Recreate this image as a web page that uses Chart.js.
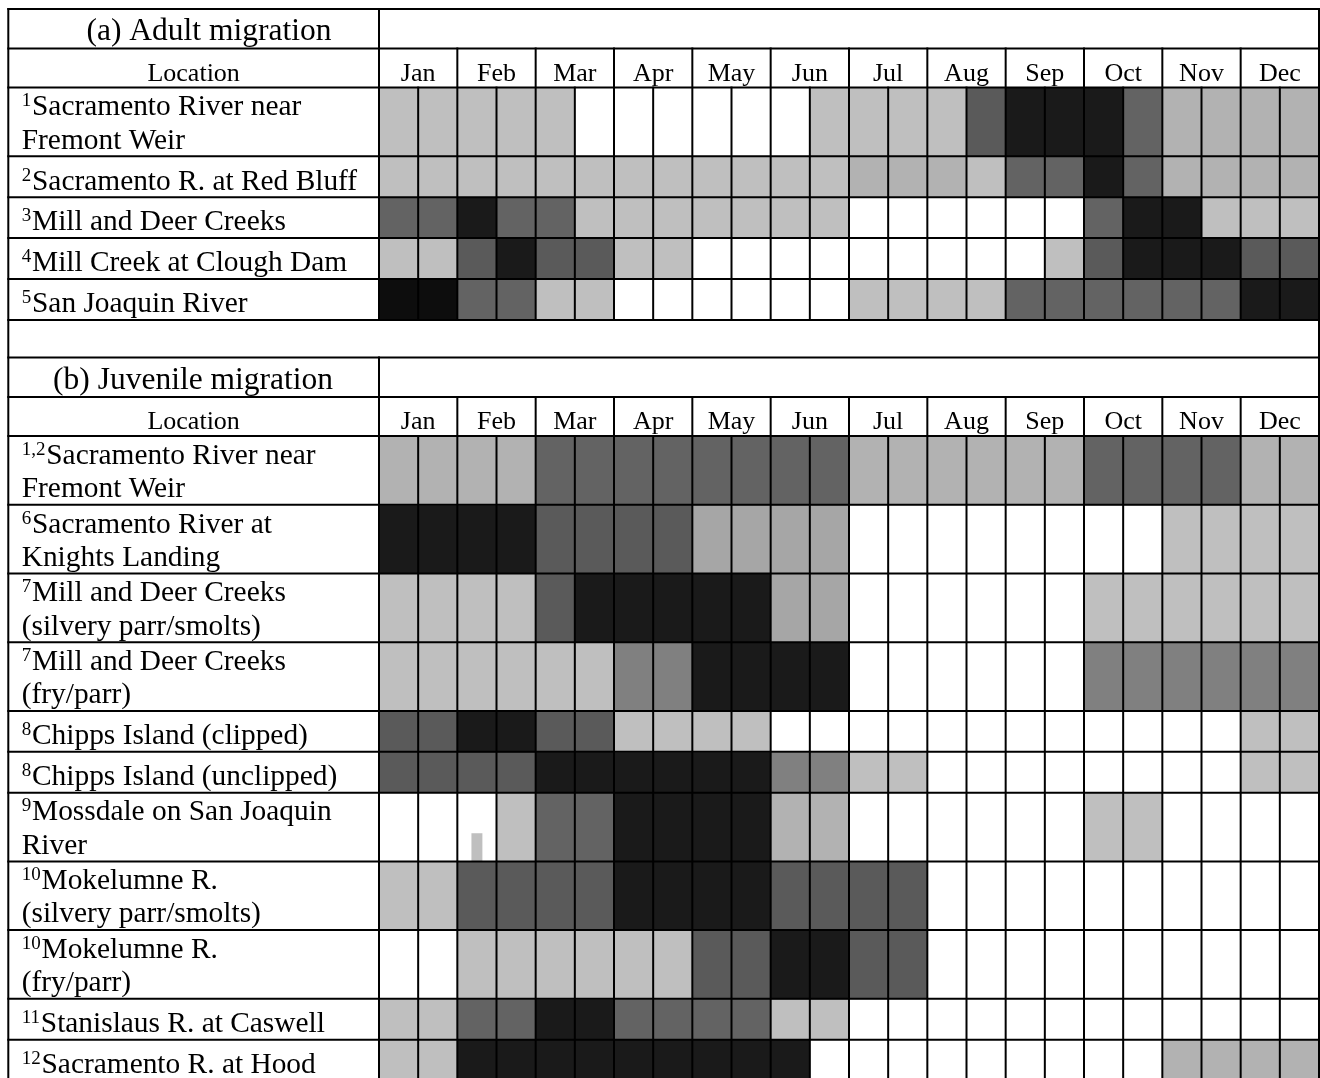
<!DOCTYPE html>
<html><head><meta charset="utf-8">
<script src="https://cdn.jsdelivr.net/npm/chart.js@4/dist/chart.umd.min.js"></script>
<style>html,body{margin:0;padding:0;background:#fff;overflow:hidden}canvas{display:block}</style>
</head><body>
<canvas id="c" width="1320" height="1078"></canvas>
<script>
// ---- categories ----
const months = ['Jan','Feb','Mar','Apr','May','Jun','Jul','Aug','Sep','Oct','Nov','Dec'];
const halfMonths = months.flatMap(m => [m + ' 1st half', m + ' 2nd half']);

// ---- shade levels (0 = none ... 8 = darkest) ----
const shadeColors = ['#ffffff','#bfbfbf','#b2b2b2','#a6a6a6','#808080','#636363','#5a5a5a','#1a1a1a','#0d0d0d'];

// ---- (a) Adult migration ----
const adultTitle = '(a) Adult migration';
const adultSuperscripts = ['1','2','3','4','5'];
const adultLocations = [
  ['Sacramento River near','Fremont Weir'],
  ['Sacramento R. at Red Bluff'],
  ['Mill and Deer Creeks'],
  ['Mill Creek at Clough Dam'],
  ['San Joaquin River']
];
const adultFremontWeir   = [1,1,1,1,1,0,0,0,0,0,0,1,1,1,1,6,7,7,7,5,2,2,2,2];
const adultRedBluff      = [1,1,1,1,1,1,1,1,1,1,1,1,2,2,2,1,5,5,7,5,2,2,2,2];
const adultMillDeer      = [5,5,7,5,5,1,1,1,1,1,1,1,0,0,0,0,0,0,5,7,7,1,1,1];
const adultCloughDam     = [1,1,6,7,6,6,1,1,0,0,0,0,0,0,0,0,0,1,6,7,7,7,6,6];
const adultSanJoaquin    = [8,8,5,5,1,1,0,0,0,0,0,0,1,1,1,1,5,5,5,5,5,5,7,7];

// ---- (b) Juvenile migration ----
const juvenileTitle = '(b) Juvenile migration';
const juvenileSuperscripts = ['1,2','6','7','7','8','8','9','10','10','11','12'];
const juvenileLocations = [
  ['Sacramento River near','Fremont Weir'],
  ['Sacramento River at','Knights Landing'],
  ['Mill and Deer Creeks','(silvery parr/smolts)'],
  ['Mill and Deer Creeks','(fry/parr)'],
  ['Chipps Island (clipped)'],
  ['Chipps Island (unclipped)'],
  ['Mossdale on San Joaquin','River'],
  ['Mokelumne R.','(silvery parr/smolts)'],
  ['Mokelumne R.','(fry/parr)'],
  ['Stanislaus R. at Caswell'],
  ['Sacramento R. at Hood']
];
const juvFremontWeir     = [2,2,2,2,5,5,5,5,5,5,5,5,2,2,2,2,2,2,5,5,5,5,2,2];
const juvKnightsLanding  = [7,7,7,7,6,6,6,6,3,3,3,3,0,0,0,0,0,0,0,0,1,1,1,1];
const juvMillDeerSmolts  = [1,1,1,1,6,7,7,7,7,7,3,3,0,0,0,0,0,0,1,1,1,1,1,1];
const juvMillDeerFry     = [1,1,1,1,1,1,4,4,7,7,7,7,0,0,0,0,0,0,4,4,4,4,4,4];
const juvChippsClipped   = [6,6,7,7,6,6,1,1,1,1,0,0,0,0,0,0,0,0,0,0,0,0,1,1];
const juvChippsUnclipped = [6,6,6,6,7,7,7,7,7,7,4,4,1,1,0,0,0,0,0,0,0,0,1,1];
const juvMossdale        = [0,0,0,1,5,5,7,7,7,7,2,2,0,0,0,0,0,0,1,1,0,0,0,0];
const juvMokelumneSmolts = [1,1,6,6,6,6,7,7,7,7,6,6,6,6,0,0,0,0,0,0,0,0,0,0];
const juvMokelumneFry    = [0,0,1,1,1,1,1,1,6,6,7,7,6,6,0,0,0,0,0,0,0,0,0,0];
const juvStanislaus      = [1,1,5,5,7,7,5,5,5,5,1,1,0,0,0,0,0,0,0,0,0,0,0,0];
const juvHood            = [1,1,7,7,7,7,7,7,7,7,7,0,0,0,0,0,0,0,0,0,2,2,2,2];

// small partial mark in the Mossdale row (Feb, first half)
const markSection = 1, markRow = 6, markColumn = 2, markFraction = 0.41, markShade = 1;

const adultRows = [adultFremontWeir, adultRedBluff, adultMillDeer, adultCloughDam, adultSanJoaquin];
const juvenileRows = [juvFremontWeir, juvKnightsLanding, juvMillDeerSmolts, juvMillDeerFry, juvChippsClipped,
  juvChippsUnclipped, juvMossdale, juvMokelumneSmolts, juvMokelumneFry, juvStanislaus, juvHood];

// ---- layout (pixels) ----
const TABLE_TOP = 9, TABLE_LEFT = 8.3, TITLE_H = 39.6, HEAD_H = 39, EMPTY_H = 37.6;
const ROW_BASE = 13.1, LINE_H = 27.8;
const FONT = '"Liberation Serif","Times New Roman",serif';

const sections = [
  {title: adultTitle, titleX: 209, sups: adultSuperscripts, labels: adultLocations, rows: adultRows},
  {title: juvenileTitle, titleX: 193, sups: juvenileSuperscripts, labels: juvenileLocations, rows: juvenileRows}
];
let yCur = TABLE_TOP;
sections.forEach((s, k) => {
  if (k > 0) yCur += EMPTY_H;
  s.titleTop = yCur; yCur += TITLE_H;
  s.headTop = yCur; yCur += HEAD_H;
  s.headBottom = yCur;
  s.bands = s.labels.map(lines => { const top = yCur; yCur += ROW_BASE + LINE_H * lines.length; return {top, bottom: yCur}; });
  s.bottom = yCur;
});

// ---- datasets ----
const datasets = [];
sections.forEach((s, k) => {
  s.rows.forEach((row, r) => {
    const b = s.bands[r];
    datasets.push({
      label: s.labels[r].join(' '),
      data: row.map(() => [b.top, b.bottom]),
      backgroundColor: row.map(v => shadeColors[v]),
      order: 1
    });
  });
});
{
  const b = sections[markSection].bands[markRow];
  const h = (b.bottom - b.top) * markFraction;
  datasets.push({
    label: 'mark',
    data: halfMonths.map((_, i) => i === markColumn ? [b.bottom - h, b.bottom] : null),
    backgroundColor: shadeColors[markShade],
    barPercentage: 0.28,
    order: 0
  });
}

const tablePlugin = {
  id: 'tableDraw',
  beforeDraw(chart) {
    const ctx = chart.ctx;
    ctx.save(); ctx.fillStyle = '#fff'; ctx.fillRect(0, 0, chart.width, chart.height); ctx.restore();
  },
  afterDatasetsDraw(chart) {
    const ctx = chart.ctx, xs = chart.scales.x, ca = chart.chartArea;
    const n = halfMonths.length;
    const edge = i => i === 0 ? ca.left : i === n ? ca.right : (xs.getPixelForValue(i - 1) + xs.getPixelForValue(i)) / 2;
    const L = TABLE_LEFT, R = ca.right, M = ca.left;
    ctx.save();
    ctx.strokeStyle = '#000'; ctx.lineWidth = 2; ctx.lineCap = 'square';
    const hl = y => { ctx.beginPath(); ctx.moveTo(L, y); ctx.lineTo(R, y); ctx.stroke(); };
    const vl = (x, y0, y1) => { ctx.beginPath(); ctx.moveTo(x, y0); ctx.lineTo(x, y1); ctx.stroke(); };
    sections.forEach(s => {
      hl(s.titleTop); hl(s.headTop); hl(s.headBottom);
      s.bands.forEach(b => hl(b.bottom));
      vl(M, s.titleTop, s.bottom);
      for (let i = 1; i < n; i++) {
        if (i % 2 === 0) vl(edge(i), s.headTop, s.bottom);
        else vl(edge(i), s.headBottom, s.bottom);
      }
    });
    vl(L, TABLE_TOP, chart.height + 5);
    vl(R, TABLE_TOP, chart.height + 5);

    ctx.fillStyle = '#000';
    ctx.textBaseline = 'alphabetic';
    sections.forEach(s => {
      ctx.font = '31.5px ' + FONT; ctx.textAlign = 'center';
      ctx.fillText(s.title, s.titleX, s.headTop - 8.5);
      ctx.font = '26px ' + FONT;
      ctx.fillText('Location', (L + M) / 2, s.headBottom - 7);
      months.forEach((m, j) => ctx.fillText(m, (edge(2 * j) + edge(2 * j + 2)) / 2, s.headBottom - 7));
      ctx.textAlign = 'left';
      s.labels.forEach((lines, r) => {
        const b = s.bands[r];
        const first = b.bottom - 7.7 - 33.3 * (lines.length - 1);
        ctx.font = '19px ' + FONT;
        const supW = ctx.measureText(s.sups[r]).width;
        ctx.fillText(s.sups[r], 21.7, first - 9);
        ctx.font = '29.4px ' + FONT;
        lines.forEach((t, li) => ctx.fillText(t, li === 0 ? 21.7 + supW + 0.8 : 21.7, first + 33.3 * li));
      });
    });
    ctx.restore();
  }
};

new Chart(document.getElementById('c'), {
  type: 'bar',
  data: { labels: halfMonths, datasets },
  options: {
    responsive: false, animation: false, devicePixelRatio: 1, events: [],
    layout: { padding: { left: 379, right: 1, top: 0, bottom: 0 } },
    plugins: { legend: { display: false }, tooltip: { enabled: false } },
    datasets: { bar: { grouped: false, barPercentage: 1, categoryPercentage: 1, borderWidth: 0 } },
    scales: {
      x: { type: 'category', display: false, offset: true, grid: { display: false } },
      y: { type: 'linear', display: false, min: 0, max: 1078, reverse: true }
    }
  },
  plugins: [tablePlugin]
});
</script>
</body></html>
